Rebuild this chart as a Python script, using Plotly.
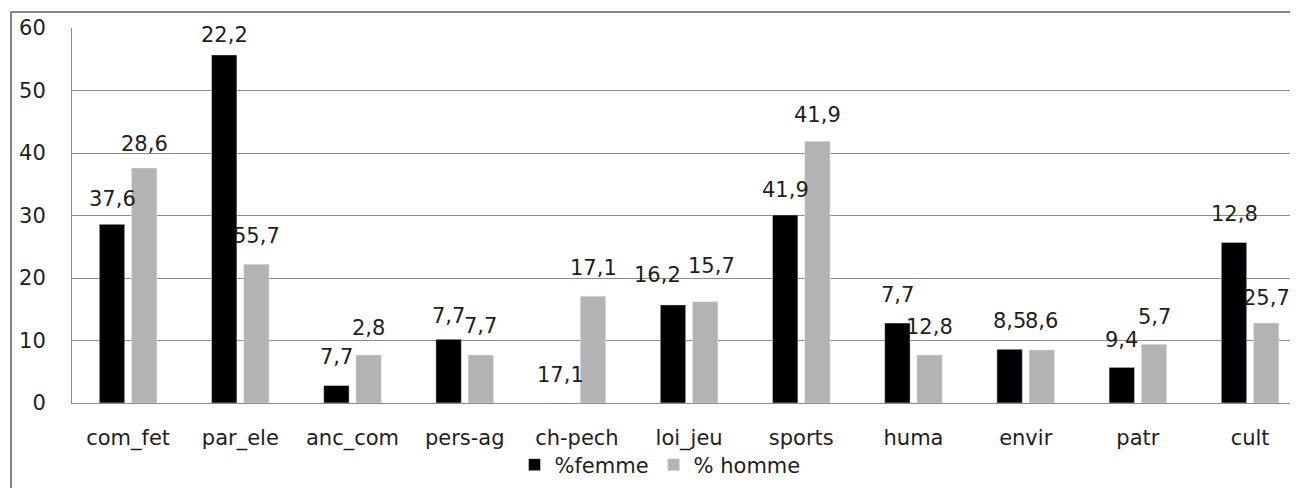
import plotly.graph_objects as go

categories = ["com_fet", "par_ele", "anc_com", "pers-ag", "ch-pech", "loi_jeu",
              "sports", "huma", "envir", "patr", "cult"]
femme = [28.6, 55.7, 2.8, 10.2, 0, 15.7, 30.1, 12.8, 8.6, 5.7, 25.7]
homme = [37.6, 22.2, 7.7, 7.7, 17.1, 16.2, 41.9, 7.7, 8.5, 9.4, 12.8]
labels_femme = ["37,6", "22,2", "7,7", "7,7", "17,1", "16,2", "41,9", "7,7", "8,5", "9,4", "12,8"]
labels_homme = ["28,6", "55,7", "2,8", "7,7", "17,1", "15,7", "41,9", "12,8", "8,6", "5,7", "25,7"]
y_ticks = [0, 10, 20, 30, 40, 50, 60]

# label placement tweaks (pixels), as positioned in the original chart
lab_dy_femme = [25.5, 20, 29, 23, 28, 30, 25, 28, 28, 27.5, 28]
lab_dy_homme = [24.5, 28, 27, 29, 28, 36, 26.5, 28, 28.5, 27.5, 25.5]
lab_dx_femme = [0, 0, 0, 0, 0, -15.5, 0, 0, 0, 0, 0]
lab_dx_homme = [0, 0, 0, 0, 0, 6.5, 0, 0, 0, 0, 0]

FONT = "DejaVu Sans"
FS = 21
TXT = "#1e1e1e"
GRID = "#8a8a8a"
BODY = 8                     # page body margin of the html page
W, H = 1298 - 2 * BODY, 496 - 2 * BODY
ML, MT = 72 - BODY, 28 - BODY
MB = (H + BODY) - 403
BARGAP = 0.426
GROUPGAP = 0.21
CATPX = 112.2

fig = go.Figure()
fig.add_trace(go.Bar(name="%femme", x=categories, y=femme, marker_color="#000000"))
fig.add_trace(go.Bar(name="% homme", x=categories, y=homme, marker_color="#b3b3b3"))

off = (1 - BARGAP) / 4
ann = []
for i, cat in enumerate(categories):
    for sign, vals, labs, dys, dxs in ((-1, femme, labels_femme, lab_dy_femme, lab_dx_femme),
                                       (1, homme, labels_homme, lab_dy_homme, lab_dx_homme)):
        ann.append(dict(x=i + sign * off, y=vals[i], xref="x", yref="y", text=labs[i],
                        showarrow=False, yanchor="middle", yshift=dys[i], xshift=dxs[i],
                        font=dict(family=FONT, size=FS, color=TXT)))

pw = W - ML
ph = H - MT - MB
def px_x(p):
    return (p - BODY - ML) / pw
def px_y(p):
    return (H - MB - (p - BODY)) / ph

shapes = [
    dict(type="line", xref="paper", yref="paper", x0=px_x(11), x1=px_x(1320),
         y0=px_y(12), y1=px_y(12), line=dict(color="#858585", width=2)),
    dict(type="line", xref="paper", yref="paper", x0=px_x(11), x1=px_x(11),
         y0=px_y(12), y1=px_y(520), line=dict(color="#858585", width=2)),
]

fig.update_layout(
    width=W, height=H,
    margin=dict(l=ML, r=0, t=MT, b=MB, pad=0),
    paper_bgcolor="white", plot_bgcolor="white",
    barmode="group", bargap=BARGAP, bargroupgap=GROUPGAP,
    font=dict(family=FONT, size=FS, color=TXT),
    showlegend=True,
    legend=dict(orientation="h", x=px_x(660), xanchor="center", y=px_y(465), yanchor="middle",
                font=dict(family=FONT, size=FS, color=TXT), itemclick=False,
                bgcolor="rgba(0,0,0,0)", tracegroupgap=0, itemwidth=30),
    annotations=ann,
    shapes=shapes,
    xaxis=dict(type="category", range=[-0.5, -0.5 + pw / CATPX], showgrid=False,
               showline=True, linecolor=GRID, linewidth=1, ticks="",
               ticklabelstandoff=16, tickfont=dict(family=FONT, size=FS, color=TXT),
               fixedrange=True),
    yaxis=dict(range=[0, 60], tickvals=y_ticks, showgrid=True, gridcolor=GRID, gridwidth=1,
               showline=True, linecolor=GRID, linewidth=1, zeroline=False, ticks="",
               ticklabelstandoff=21, tickfont=dict(family=FONT, size=FS, color=TXT),
               fixedrange=True),
)

fig.write_html("out.html", config={"displayModeBar": False})
